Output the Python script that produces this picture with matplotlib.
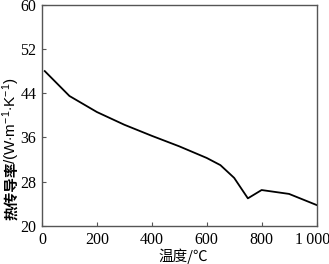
import matplotlib
matplotlib.use("Agg")
import matplotlib.pyplot as plt
import matplotlib.transforms as mtransforms

temperature = [10, 100, 200, 300, 400, 500, 600, 650, 700, 750, 800, 900, 1000]
conductivity = [48.0, 43.5, 40.6, 38.3, 36.3, 34.4, 32.3, 31.0, 28.7, 25.0, 26.5, 25.8, 23.8]
xticks = [0, 200, 400, 600, 800, 1000]
xticklabels = ["0", "200", "400", "600", "800", "1\u2009000"]
yticks = [20, 28, 36, 44, 52, 60]

fam = ["Liberation Serif", "Noto Sans CJK SC", "DejaVu Serif"]
plt.rcParams["font.family"] = fam
plt.rcParams["mathtext.fontset"] = "custom"
plt.rcParams["mathtext.rm"] = "Liberation Sans"
plt.rcParams["mathtext.it"] = "Liberation Sans"
plt.rcParams["mathtext.bf"] = "Liberation Sans:bold"

W, H = 329, 264
fig = plt.figure(figsize=(W/100, H/100), dpi=100)
ax = fig.add_axes([42/W, 1-226/H, (316.5-42)/W, (226-4.7)/H])
ax.plot(temperature, conductivity, color="black", lw=1.3)
ax.set_xlim(0, 1000)
ax.set_ylim(20, 60)
ax.set_xticks(xticks)
ax.set_xticklabels(xticklabels)
ax.set_yticks(yticks)
ax.tick_params(direction="in", length=3, labelsize=11.5, width=0.8, color="#555555", pad=4)
for s in ax.spines.values():
    s.set_color("#555555")
    s.set_linewidth(1.0)

# shift the last x tick label slightly left as in the reference
lbl = ax.get_xticklabels()[-1]
lbl.set_transform(lbl.get_transform() + mtransforms.ScaledTranslation(-4/100, 0, fig.dpi_scale_trans))

# x label
fig.text(183/W, 1-256/H, "温度/℃", ha="center", va="center", fontsize=10.5,
         family=["Noto Sans CJK SC", "DejaVu Sans"])
# y label in two pieces: bold CJK part and regular unit part
fig.text(11/W, 1-220/H, "热传导率", rotation=90, ha="center", va="bottom",
         fontsize=10.5, fontweight="bold", family=["Noto Sans CJK SC", "DejaVu Sans"])
fig.text(11/W, 1-164/H, r"/(W$\cdot$m$^{-1}$$\cdot$K$^{-1}$)", rotation=90, ha="center", va="bottom",
         fontsize=11, family=["Liberation Sans", "DejaVu Sans"])

fig.savefig("out.png", dpi=100)
